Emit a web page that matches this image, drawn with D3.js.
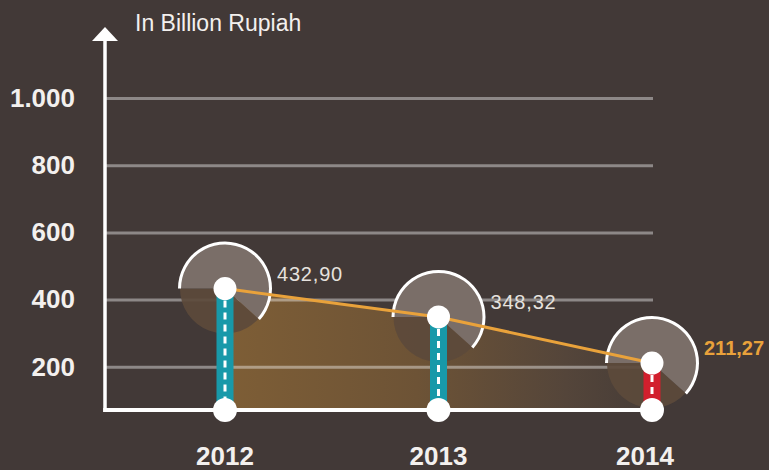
<!DOCTYPE html>
<html>
<head>
<meta charset="utf-8">
<script src="https://cdn.jsdelivr.net/npm/d3@7/dist/d3.min.js"></script>
<style>
  html, body { margin: 0; padding: 0; background: #423937; }
  svg { display: block; }
</style>
</head>
<body>
<svg id="chart" width="769" height="470"></svg>
<script>
// Values in billion Rupiah
const years = ["2012", "2013", "2014"];
const values = [432.90, 348.32, 211.27];
const yTicks = [200, 400, 600, 800, 1000];
const unitLabel = "In Billion Rupiah";

const W = 769, H = 470;
const AXIS_X = 105, GRID_END = 653, BASE_Y = 410;

const svg = d3.select("#chart");
svg.append("rect").attr("width", W).attr("height", H).attr("fill", "#423937");

const locale = d3.formatLocale({ decimal: ",", thousands: ".", grouping: [3], currency: ["Rp", ""] });
const fmtTick = locale.format(",");
const fmtVal = locale.format(",.2f");

const x = d3.scalePoint().domain(years).range([225, 652]);
const y = d3.scaleLinear().domain([0, 1000]).range([434, 98]);

const data = years.map((yr, i) => ({ year: yr, value: values[i], last: i === years.length - 1 }));

const FONT = "'Liberation Sans', Arial, Helvetica, sans-serif";

// Horizontal fade for the area under the trend line
const defs = svg.append("defs");
const grad = defs.append("linearGradient")
  .attr("id", "areaFade")
  .attr("gradientUnits", "userSpaceOnUse")
  .attr("x1", x(years[0])).attr("x2", x(years[years.length - 1]))
  .attr("y1", 0).attr("y2", 0);
grad.append("stop").attr("offset", 0).attr("stop-color", "#7e5e36");
grad.append("stop").attr("offset", 0.45).attr("stop-color", "#6d5336");
grad.append("stop").attr("offset", 0.8).attr("stop-color", "#54453a");
grad.append("stop").attr("offset", 1).attr("stop-color", "#463c37");

const area = d3.area()
  .x(d => x(d.year))
  .y0(BASE_Y)
  .y1(d => y(d.value));
svg.append("path").datum(data).attr("d", area).attr("fill", "url(#areaFade)");

// Gridlines and tick labels
const yAxis = d3.axisLeft(y)
  .tickValues(yTicks)
  .tickFormat(fmtTick)
  .tickSize(-(GRID_END - AXIS_X))
  .tickPadding(30);
const gy = svg.append("g").attr("transform", `translate(${AXIS_X},0)`).call(yAxis);
gy.select(".domain").remove();
gy.selectAll(".tick line")
  .attr("stroke", "#ffffff").attr("stroke-opacity", 0.4).attr("stroke-width", 3);
gy.selectAll(".tick text")
  .attr("fill", "#f3f0ee")
  .style("font-family", FONT)
  .style("font-size", "26px")
  .style("font-weight", "bold");

// Pie-like dials behind each point
const R = 45;
const split = 132 * Math.PI / 180;
const lightArc = d3.arc().innerRadius(0).outerRadius(R).startAngle(-Math.PI / 2).endAngle(split);
const darkArc = d3.arc().innerRadius(0).outerRadius(R).startAngle(split).endAngle(1.5 * Math.PI);
const rimArc = d3.arc().innerRadius(R - 1).outerRadius(R + 2).startAngle(-Math.PI / 2).endAngle(split);

const dials = svg.append("g").selectAll("g").data(data).join("g")
  .attr("transform", d => `translate(${x(d.year)},${y(d.value)})`);
dials.append("path").attr("d", darkArc).attr("fill", "#5c4a3b").attr("fill-opacity", 0.92);
dials.append("path").attr("d", lightArc).attr("fill", "#7a6e68");
dials.append("path").attr("d", rimArc).attr("fill", "#ffffff");

// Trend line
const line = d3.line().x(d => x(d.year)).y(d => y(d.value));
svg.append("path").datum(data).attr("d", line)
  .attr("fill", "none").attr("stroke", "#e9a23b").attr("stroke-width", 3);

// Axes lines
svg.append("line")
  .attr("x1", AXIS_X).attr("x2", AXIS_X).attr("y1", BASE_Y + 2).attr("y2", 38)
  .attr("stroke", "#ffffff").attr("stroke-width", 3.5);
svg.append("path")
  .attr("d", `M${AXIS_X},27 L${AXIS_X + 13},41 L${AXIS_X - 13},41 Z`)
  .attr("fill", "#ffffff");
svg.append("line")
  .attr("x1", AXIS_X - 1.75).attr("x2", x(years[years.length - 1])).attr("y1", BASE_Y).attr("y2", BASE_Y)
  .attr("stroke", "#ffffff").attr("stroke-width", 4);

// Bars with dashed centre line
const BAR_W = 17;
const bars = svg.append("g").selectAll("g").data(data).join("g");
bars.append("rect")
  .attr("x", d => x(d.year) - BAR_W / 2)
  .attr("y", d => y(d.value))
  .attr("width", BAR_W)
  .attr("height", d => BASE_Y - y(d.value))
  .attr("fill", d => d.last ? "#d21f2d" : "#1899a9");
bars.append("line")
  .attr("x1", d => x(d.year)).attr("x2", d => x(d.year))
  .attr("y1", d => y(d.value) + 12).attr("y2", BASE_Y - 8)
  .attr("stroke", "#ffffff").attr("stroke-width", 3).attr("stroke-dasharray", "7,5");
bars.append("circle")
  .attr("cx", d => x(d.year)).attr("cy", d => y(d.value)).attr("r", 11.5).attr("fill", "#ffffff");
bars.append("circle")
  .attr("cx", d => x(d.year)).attr("cy", BASE_Y).attr("r", 12).attr("fill", "#ffffff");

// Value labels
svg.append("g").selectAll("text").data(data).join("text")
  .attr("x", d => x(d.year) + 52)
  .attr("y", d => y(d.value) - 8)
  .attr("fill", d => d.last ? "#e9a23b" : "#e6e2de")
  .style("font-family", FONT)
  .style("font-size", "20px")
  .style("font-weight", d => d.last ? "bold" : "normal")
  .style("letter-spacing", d => d.last ? "0px" : "0.8px")
  .text(d => fmtVal(d.value));

// Year labels (the last one is nudged inward to stay clear of the edge)
svg.append("g").selectAll("text").data(data).join("text")
  .attr("x", d => x(d.year) - (d.last ? 7 : 0))
  .attr("y", 465)
  .attr("text-anchor", "middle")
  .attr("fill", "#f3f0ee")
  .style("font-family", FONT)
  .style("font-size", "26px")
  .style("font-weight", "bold")
  .text(d => d.year);

// Unit caption
svg.append("text")
  .attr("x", 135).attr("y", 31)
  .attr("fill", "#f3f0ee")
  .style("font-family", FONT)
  .style("font-size", "23px")
  .text(unitLabel);
</script>
</body>
</html>
